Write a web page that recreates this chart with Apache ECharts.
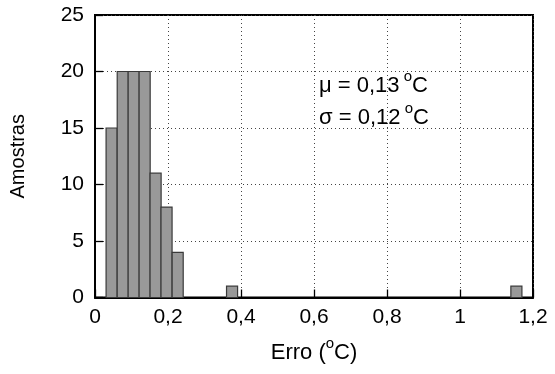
<!DOCTYPE html>
<html>
<head>
<meta charset="utf-8">
<script src="https://cdn.jsdelivr.net/npm/echarts@6/dist/echarts.min.js"></script>
<style>
html,body{margin:0;padding:0;background:#fff;}
#chart{width:555px;height:374px;}
</style>
</head>
<body>
<div id="chart"></div>
<script>
// Histogram bins (centre of each bin, °C) and sample counts
const binCenters = [0.0455, 0.076, 0.106, 0.136, 0.166, 0.196, 0.2265, 0.3755, 1.1545];
const counts     = [15, 20, 20, 20, 11, 8, 4, 1, 1];
const binWidth   = 0.0303;
const xTicks = [0, 0.2, 0.4, 0.6, 0.8, 1, 1.2];
const yTicks = [0, 5, 10, 15, 20, 25];
const statsLines = [['\u03bc', '0,13'], ['\u03c3', '0,12']];

const FONT = 'Liberation Sans, Arial, sans-serif';
const FS = 21;
const chart = echarts.init(document.getElementById('chart'), null, {renderer: 'canvas'});

const fmtX = v => String(Math.round(v * 10) / 10).replace('.', ',');

const supRich = (colorKey) => ({
  t: {fontFamily: FONT, fontSize: 22, [colorKey]: '#000', lineHeight: 24},
  s: {fontFamily: FONT, fontSize: 15, [colorKey]: '#000', lineHeight: 15, padding: [0, 0, 18, 0]}
});

chart.setOption({
  animation: false,
  backgroundColor: '#fff',
  grid: {left: 93, right: 22, top: 15, bottom: 76, show: true, borderColor: '#000', borderWidth: 2, backgroundColor: 'transparent'},
  xAxis: {
    type: 'value', min: xTicks[0], max: xTicks[xTicks.length - 1], interval: 0.2,
    axisLine: {show: true, lineStyle: {color: '#000', width: 2}},
    axisTick: {show: true, inside: true, length: 8, lineStyle: {color: '#000', width: 1.3}},
    axisLabel: {color: '#000', fontFamily: FONT, fontSize: FS, margin: 9, formatter: fmtX},
    splitLine: {show: true, lineStyle: {color: '#444', type: [1, 3], width: 1}},
    name: '{t|Erro (}{s|o}{t|C)}', nameLocation: 'middle', nameGap: 43,
    nameTextStyle: {rich: supRich('color')}
  },
  yAxis: {
    type: 'value', min: yTicks[0], max: yTicks[yTicks.length - 1], interval: 5,
    axisLine: {show: true, lineStyle: {color: '#000', width: 2}},
    axisTick: {show: true, inside: true, length: 8, lineStyle: {color: '#000', width: 1.3}},
    axisLabel: {color: '#000', fontFamily: FONT, fontSize: FS, margin: 11},
    splitLine: {show: true, lineStyle: {color: '#444', type: [1, 3], width: 1}},
    name: 'Amostras', nameLocation: 'middle', nameGap: 67, nameRotate: 90,
    nameTextStyle: {color: '#000', fontFamily: FONT, fontSize: 20}
  },
  series: [{
    type: 'custom',
    data: binCenters.map((c, i) => [c, counts[i]]),
    encode: {x: 0, y: 1},
    renderItem: function (params, api) {
      const c = api.value(0), v = api.value(1);
      const p0 = api.coord([c - binWidth / 2, v]);
      const p1 = api.coord([c + binWidth / 2, 0]);
      return {
        type: 'rect',
        shape: {x: p0[0], y: p0[1], width: p1[0] - p0[0], height: p1[1] - p0[1]},
        style: {fill: '#999999', stroke: '#3a3a3a', lineWidth: 1.2}
      };
    },
    z: 3
  }],
  graphic: statsLines.map((s, i) => ({
    type: 'text', left: 319, top: 69 + i * 32, z: 10,
    style: {
      text: '{t|' + s[0] + ' = ' + s[1] + '}{s| o}{t|C}',
      rich: supRich('fill')
    }
  }))
});
</script>
</body>
</html>
